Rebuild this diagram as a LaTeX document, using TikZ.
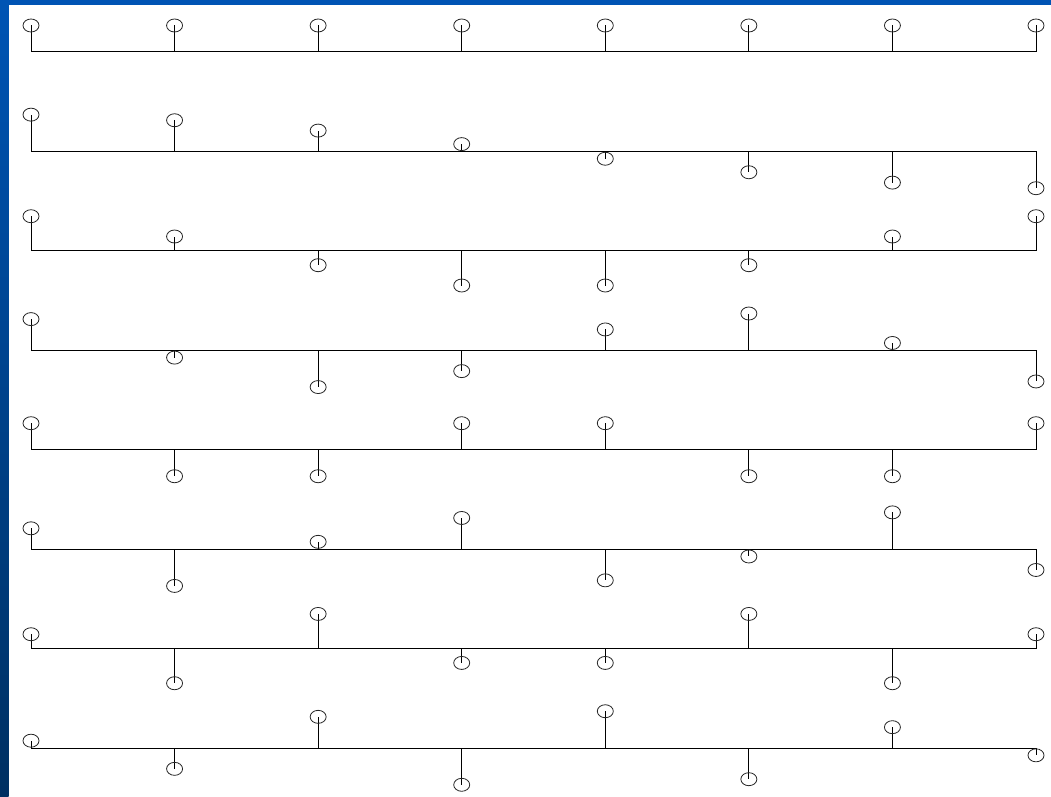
\documentclass[tikz,border=0pt]{standalone}
\usepackage{tikz}
\definecolor{frametop}{RGB}{0,84,180}
\definecolor{framebot}{RGB}{0,48,98}
\tikzset{
	stemline/.style = {line width=1pt, black, line join=miter},
	sampledot/.style = {line width=0.8pt, black!85}
}

\begin{document}
\begin{tikzpicture}[x=1pt, y=1pt]
	\useasboundingbox (0,0) rectangle (1051,796);
	% frame
	\fill[white] (0,0) rectangle (1051,796);
	\shade[top color=frametop, bottom color=framebot] (0,0) rectangle (8.5,796);
	\fill[frametop] (0,791) rectangle (1051,796);
	% one row for each basis vector
	\foreach \k in {0,...,7} {
		\pgfmathsetmacro{\base}{744-99.43*\k}
		\draw[stemline] (31,\base) -- (1036,\base);
		\foreach \n in {0,...,7} {
			\pgfmathsetmacro{\xx}{31+143.57*\n}
			\pgfmathsetmacro{\amp}{ifthenelse(\k==0, 26.5, 37.5*cos((2*\n+1)*\k*11.25))}
			\draw[stemline] (\xx,\base) -- (\xx,\base+\amp);
			\draw[sampledot] (\xx,\base+\amp) ellipse (8 and 6.5);
		}
	}
\end{tikzpicture}
\end{document}
